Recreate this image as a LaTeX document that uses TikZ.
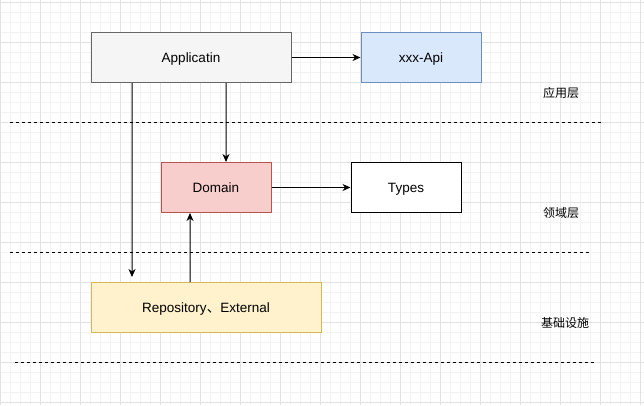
\documentclass[tikz,border=0pt]{standalone}
\usepackage{fontspec}
\setmainfont{Liberation Sans}
\newfontfamily\cjk{Noto Sans CJK SC}
\usetikzlibrary{arrows.meta}
\definecolor{gridmin}{HTML}{F3F3F3}
\definecolor{gridmaj}{HTML}{E2E2E2}
\definecolor{appfill}{HTML}{F5F5F5}
\definecolor{appline}{HTML}{666666}
\definecolor{apifill}{HTML}{DAE8FC}
\definecolor{apiline}{HTML}{6C8EBF}
\definecolor{domfill}{HTML}{F8CECC}
\definecolor{domline}{HTML}{B85450}
\definecolor{repfill}{HTML}{FFF2CC}
\definecolor{repline}{HTML}{D6B656}
\tikzset{
  box/.style={draw, line width=1bp, inner sep=0pt, text height=9.6bp, text depth=0pt, font=\fontsize{13.5bp}{15bp}\selectfont},
  arr/.style={line width=1bp, -{Stealth[length=8bp,width=7bp,inset=2.5bp]}},
  layerline/.style={line width=1bp, dash pattern=on 3bp off 3bp},
  layerlabel/.style={font=\cjk\fontsize{12bp}{14bp}\selectfont, inner sep=0pt},
}
\begin{document}
\begin{tikzpicture}[x=1bp,y=-1bp]
\fill[white] (0,0) rectangle (644,405);
\useasboundingbox (0,0) rectangle (644,405);
% grid
\foreach \i in {0,10,...,640} {\draw[gridmin, line width=0.6bp] (\i,0) -- (\i,405);}
\foreach \j in {2.5,12.5,...,405} {\draw[gridmin, line width=0.6bp] (0,\j) -- (644,\j);}
\foreach \i in {0,40,...,640} {\draw[gridmaj, line width=0.8bp] (\i,0) -- (\i,405);}
\foreach \j in {2.5,42.5,...,405} {\draw[gridmaj, line width=0.8bp] (0,\j) -- (644,\j);}
% nodes
\node[box, fill=appfill, draw=appline, minimum width=200bp, minimum height=50bp] (app) at (191,57.5) {Applicatin};
\node[box, fill=apifill, draw=apiline, minimum width=120bp, minimum height=50bp] (api) at (421,57.5) {xxx-Api};
\node[box, fill=domfill, draw=domline, minimum width=110bp, minimum height=50bp] (dom) at (216,187.5) {Domain};
\node[box, fill=white, draw=black, minimum width=110bp, minimum height=50bp] (typ) at (406,187.5) {Types};
\node[box, fill=repfill, draw=repline, minimum width=230bp, minimum height=50bp] (rep) at (206,307.5) {Repository{\cjk 、}External};
% layer labels
\node[layerlabel] (l1) at (561,92.5) {应用层};
\node[layerlabel] (l2) at (561,212.5) {领域层};
\node[layerlabel] (l3) at (565,323) {基础设施};
% layer separators
\coordinate (d1a) at (10,122.5); \coordinate (d1b) at (601,122.5);
\coordinate (d2a) at (10,252.5); \coordinate (d2b) at (590,252.5);
\coordinate (d3a) at (15,362.5); \coordinate (d3b) at (595,362.5);
\draw[layerline] (d1a) -- (d1b);
\draw[layerline] (d2a) -- (d2b);
\draw[layerline] (d3a) -- (d3b);
% connectors
\draw[arr] (app.east) -- (api.west);
\draw[arr] (dom.east) -- (typ.west);
\draw[arr] ([xshift=35bp]app.south) -- ([xshift=10bp]dom.north);
\coordinate (repend) at (132,277);
\draw[arr] ([xshift=-59bp]app.south) -- (repend);
\draw[arr] ([xshift=-16bp]rep.north) -- ([xshift=-26bp]dom.south);
\end{tikzpicture}
\end{document}
